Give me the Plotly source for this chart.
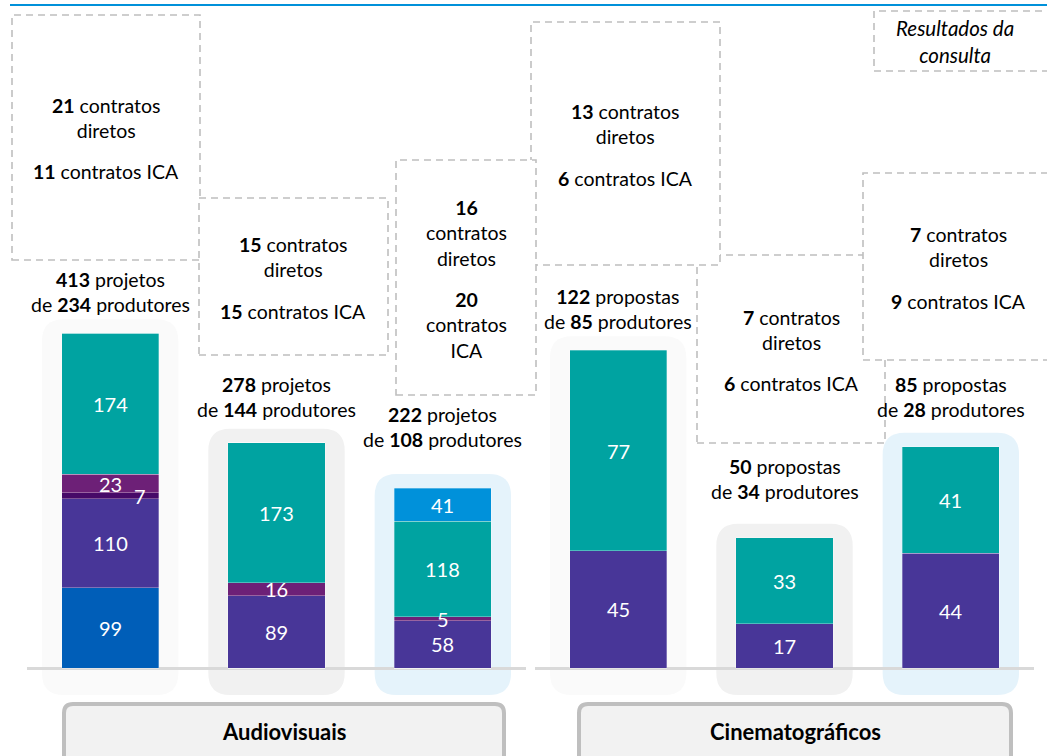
import plotly.graph_objects as go

W, H = 1047, 756

# Audiovisuais (3 colunas), valores de baixo para cima
av_azul = [99, 0, 0]
av_violeta = [110, 89, 58]
av_roxo = [7, 0, 0]
av_purpura = [23, 16, 5]
av_verde = [174, 173, 118]
av_azul_claro = [0, 0, 41]

# Cinematográficos (3 colunas)
cin_violeta = [45, 17, 44]
cin_verde = [77, 33, 41]

produtores = [234, 144, 108, 85, 34, 28]
contratos_diretos = [21, 15, 16, 13, 7, 7]
contratos_ica = [11, 15, 20, 6, 6, 9]
grupos = ["Audiovisuais", "Cinematográficos"]
nomes = ["projetos", "projetos", "projetos", "propostas", "propostas", "propostas"]

FONT = "Lato"
cores = {
    "azul": "#005EB8",
    "violeta": "#483698",
    "roxo": "#470A68",
    "purpura": "#6D2077",
    "verde": "#00A3A1",
    "azul_claro": "#0091DA",
}
fundos = ["#fafafa", "#f1f1f1", "#e5f3fb"]

# axis geometry (pixels)
BASE = 668      # baseline
BOTTOM = 700    # bottom of y domain
ymax = [824.0, 256.5]
kpx = [BASE / m for m in ymax]   # pixels per unit
x_dom = [(27, 526), (535, 1034)]
cat_px = (x_dom[0][1] - x_dom[0][0]) / 3.0


def px(x):
    return x / W


def py(y):
    return 1 - y / H


def rrect(x0, x1, y0, y1, rx, ry):
    return (f"M{x0+rx:.5f},{y0:.5f} L{x1-rx:.5f},{y0:.5f} Q{x1:.5f},{y0:.5f} {x1:.5f},{y0+ry:.5f} "
            f"L{x1:.5f},{y1-ry:.5f} Q{x1:.5f},{y1:.5f} {x1-rx:.5f},{y1:.5f} L{x0+rx:.5f},{y1:.5f} "
            f"Q{x0:.5f},{y1:.5f} {x0:.5f},{y1-ry:.5f} L{x0:.5f},{y0+ry:.5f} "
            f"Q{x0:.5f},{y0:.5f} {x0+rx:.5f},{y0:.5f} Z")


series = [
    [("azul", av_azul), ("violeta", av_violeta), ("roxo", av_roxo),
     ("purpura", av_purpura), ("verde", av_verde), ("azul_claro", av_azul_claro)],
    [("violeta", cin_violeta), ("verde", cin_verde)],
]

fig = go.Figure()
shapes = []
annotations = []
totais = []

for g, grupo in enumerate(series):
    xa = "x" if g == 0 else "x2"
    ya = "y" if g == 0 else "y2"
    cats = [0, 1, 2]
    for nome, vals in grupo:
        fig.add_trace(
            go.Bar(x=cats, y=vals, xaxis=xa, yaxis=ya, width=0.584,
                   marker=dict(color=cores[nome],
                               line=dict(color="rgba(255,255,255,0.5)", width=0.6)),
                   hoverinfo="skip"))
    # value labels inside the bars
    for i in cats:
        cum = 0
        for nome, vals in grupo:
            v = vals[i]
            if v > 0:
                annotations.append(dict(
                    x=i, y=cum + v / 2, xref=xa, yref=ya, text=str(v),
                    showarrow=False, xanchor="center",
                    xshift=30 if nome == "roxo" else 0,
                    font=dict(family=FONT, size=20, color="white")))
            cum += v
        totais.append(cum)
    # rounded background behind every bar
    k = kpx[g]
    for i in cats:
        tot = sum(vals[i] for _, vals in grupo)
        shapes.append(dict(
            type="path", xref=xa, yref=ya, layer="below", line=dict(width=0),
            fillcolor=fundos[i],
            path=rrect(i - 0.41, i + 0.41, -27 / k, tot + 14 / k,
                       22 / cat_px, 22 / k)))

# labels above the bars
label_shift = [41, 46, 61, 41, 59, 50]
for j, tot in enumerate(totais):
    g = j // 3
    annotations.append(dict(
        x=j % 3, y=tot, xref="x" if g == 0 else "x2", yref="y" if g == 0 else "y2",
        yshift=label_shift[j], showarrow=False, xanchor="center", yanchor="middle",
        text=f"<b>{tot}</b> {nomes[j]}<br>de <b>{produtores[j]}</b> produtores",
        font=dict(family=FONT, size=19.5, color="black")))

# dashed boxes with the contract counts (pixel layout), in drawing order
caixas = [
    (0, 12, 200, 15, 260),
    (1, 199, 388, 198, 355),
    (4, 697, 885, 255, 443),
    (3, 531, 720, 22, 265),
    (2, 396, 536, 160, 395),
    (5, 863, 1060, 173, 360),
]
texto_pos = {0: (106, 117.5, 172), 1: (293, 256.5, 311), 2: (466, 233, 325),
             3: (625, 123.5, 178), 4: (791, 329.5, 383), 5: (958, 247, 301)}
dash = dict(color="#bfbfbf", width=1.6, dash="7px,5px")
for j, x0, x1, y0, y1 in caixas:
    shapes.append(dict(type="rect", xref="paper", yref="paper", layer="above",
                       x0=px(x0), x1=px(x1), y0=py(y1), y1=py(y0),
                       fillcolor="white", line=dash))
for j in range(6):
    cx, ya_, yb_ = texto_pos[j]
    if j == 2:
        t1 = f"<b>{contratos_diretos[j]}</b><br>contratos<br>diretos"
        t2 = f"<b>{contratos_ica[j]}</b><br>contratos<br>ICA"
    else:
        t1 = f"<b>{contratos_diretos[j]}</b> contratos<br>diretos"
        t2 = f"<b>{contratos_ica[j]}</b> contratos ICA"
    for t, yy in ((t1, ya_), (t2, yb_)):
        annotations.append(dict(x=px(cx), y=py(yy), xref="paper", yref="paper",
                                text=t, showarrow=False,
                                xanchor="center", yanchor="middle",
                                font=dict(family=FONT, size=19.5, color="black")))

shapes.append(dict(type="rect", xref="paper", yref="paper", layer="above",
                   x0=px(874), x1=px(1060), y0=py(71), y1=py(11),
                   fillcolor="white", line=dash))
annotations.append(dict(x=px(955), y=py(41.5), xref="paper", yref="paper",
                        text="<i>Resultados da<br>consulta</i>", showarrow=False,
                        xanchor="center", yanchor="middle",
                        font=dict(family=FONT, size=20.5, color="black")))

# top blue rule
shapes.append(dict(type="line", xref="paper", yref="paper", x0=px(10), x1=1,
                   y0=py(5), y1=py(5), line=dict(color="#0091DA", width=2)))

# group label boxes
for g, (x0, x1) in enumerate([(64, 504), (579, 1011)]):
    shapes.append(dict(type="path", xref="paper", yref="paper", layer="above",
                       fillcolor="#f2f2f2", line=dict(color="#bfbfbf", width=4),
                       path=rrect(px(x0), px(x1), py(790), py(704), px(9), 9 / H)))
    annotations.append(dict(x=px((x0 + x1) / 2), y=py(731), xref="paper", yref="paper",
                            text=f"<b>{grupos[g]}</b>", showarrow=False,
                            xanchor="center", yanchor="middle",
                            font=dict(family=FONT, size=22, color="black")))

y_dom = [py(BOTTOM), 1]
fig.update_layout(
    width=W, height=H, barmode="stack", showlegend=False,
    margin=dict(l=0, r=0, t=0, b=0),
    paper_bgcolor="white", plot_bgcolor="white",
    shapes=shapes, annotations=annotations,
    xaxis=dict(domain=[px(x_dom[0][0]), px(x_dom[0][1])], range=[-0.5, 2.5],
               visible=False),
    xaxis2=dict(domain=[px(x_dom[1][0]), px(x_dom[1][1])], range=[-0.5, 2.5],
                visible=False, anchor="y2"),
    yaxis=dict(domain=y_dom, range=[-(BOTTOM - BASE) / kpx[0], ymax[0]],
               showgrid=False, showticklabels=False, zeroline=True,
               zerolinecolor="#d9d9d9", zerolinewidth=2.5),
    yaxis2=dict(domain=y_dom, range=[-(BOTTOM - BASE) / kpx[1], ymax[1]],
                showgrid=False, showticklabels=False, zeroline=True,
                zerolinecolor="#d9d9d9", zerolinewidth=2.5, anchor="x2"),
)

# page body has a default 8px margin; drop it so the figure sits at (0, 0)
fig.write_html("out.html", config={"displayModeBar": False},
               post_script="document.body.style.margin = '0';")
